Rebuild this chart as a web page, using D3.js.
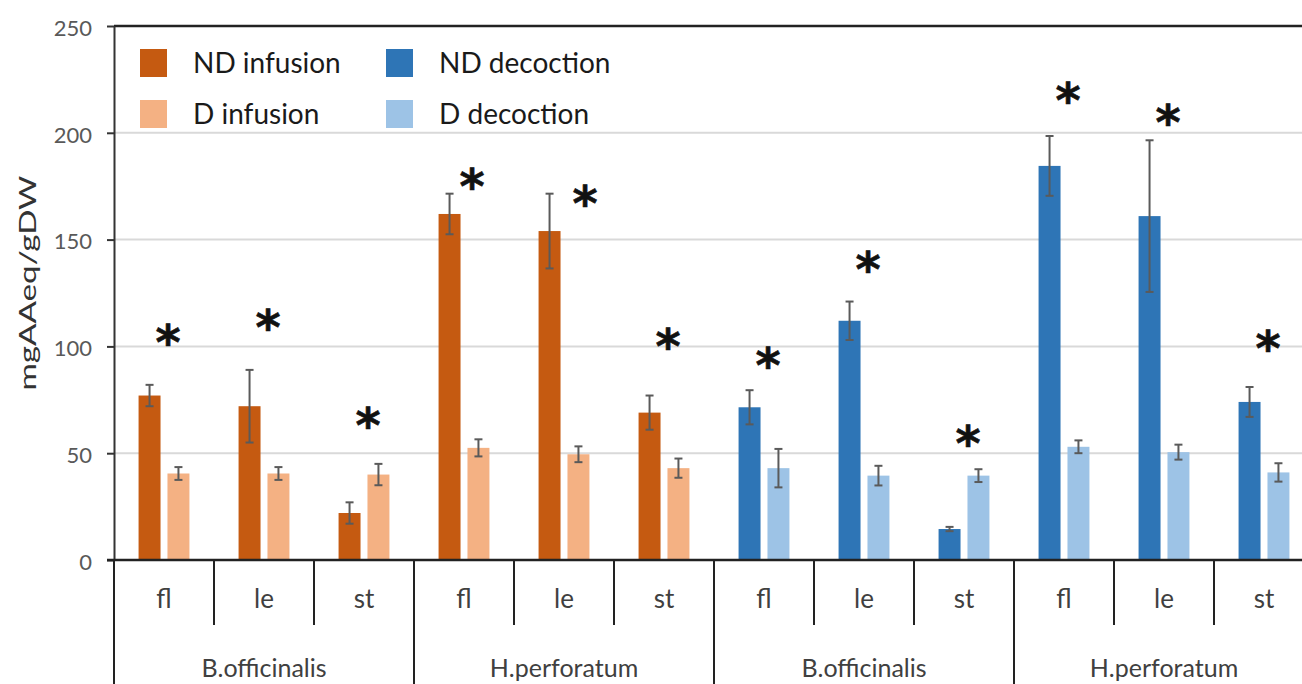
<!DOCTYPE html>
<html lang="en">
<head>
  <meta charset="UTF-8">
  <title>Antioxidant capacity</title>
  <script src="https://d3js.org/d3.v7.min.js"></script>
  <style>
    body { margin: 0; background: #fff; }
    svg { display: block; font-family: Lato, "Open Sans", sans-serif; }
  </style>
</head>
<body>
<svg id="chart" width="1302" height="684"></svg>
<script>
// data
const plants = ["B.officinalis", "H.perforatum", "B.officinalis", "H.perforatum"];
const parts = ["fl", "le", "st"];
const ndInfusion    = [77, 72, 22, 162, 154, 69];
const ndInfusionErr = [5, 17, 5, 9.5, 17.5, 8];
const dInfusion     = [40.5, 40.5, 40, 52.5, 49.5, 43];
const dInfusionErr  = [3, 3, 5, 4, 3.7, 4.5];
const ndDecoction    = [71.5, 112, 14.5, 184.5, 161, 74];
const ndDecoctionErr = [8, 9, 1, 14, 35.5, 7];
const dDecoction     = [43, 39.5, 39.5, 53, 50.5, 41];
const dDecoctionErr  = [9, 4.6, 3, 3, 3.5, 4.3];
// height (mgAAeq/gDW) where each significance asterisk sits
const asterisks = [106, 113, 67, 179, 171, 104, 95, 140, 58.5, 219, 209, 103];
const yTicks = [0, 50, 100, 150, 200, 250];
const legendItems = ["ND infusion", "D infusion", "ND decoction", "D decoction"];

const colors = {
  "ND infusion": "#c55a11", "D infusion": "#f4b183",
  "ND decoction": "#2e75b6", "D decoction": "#9dc3e6"
};

// one row per category (plant x part), infusion first then decoction
const rows = d3.range(12).map(i => {
  const dec = i >= 6, k = i % 6;
  return {
    i,
    method: dec ? "decoction" : "infusion",
    part: parts[i % 3],
    nd: dec ? ndDecoction[k] : ndInfusion[k],
    ndErr: dec ? ndDecoctionErr[k] : ndInfusionErr[k],
    d: dec ? dDecoction[k] : dInfusion[k],
    dErr: dec ? dDecoctionErr[k] : dInfusionErr[k]
  };
});

const svg = d3.select("#chart");
const margin = { top: 26, left: 114, bottom: 560, right: 1314 };

const y = d3.scaleLinear().domain([0, 250]).range([margin.bottom, margin.top]);
const x = d3.scaleBand().domain(d3.range(12)).range([margin.left, margin.right]);
const inner = d3.scaleBand().domain(["ND", "D"]).range([0, x.bandwidth()])
  .paddingInner(0.24).paddingOuter(0.85);

// gridlines
svg.append("g").selectAll("line")
  .data(yTicks.filter(t => t > 0 && t < 250))
  .join("line")
  .attr("x1", margin.left).attr("x2", margin.right)
  .attr("y1", d => y(d)).attr("y2", d => y(d))
  .attr("stroke", "#d9d9d9").attr("stroke-width", 2);

// top border at 250
svg.append("line")
  .attr("x1", margin.left).attr("x2", margin.right)
  .attr("y1", y(250)).attr("y2", y(250))
  .attr("stroke", "#222").attr("stroke-width", 2.5);

// y axis
const yAxis = svg.append("g")
  .attr("transform", `translate(${margin.left},0)`)
  .call(d3.axisLeft(y).tickValues(yTicks).tickSize(7).tickSizeOuter(0).tickPadding(15));
yAxis.select(".domain").attr("stroke", "#333").attr("stroke-width", 2);
yAxis.selectAll(".tick line").attr("stroke", "#333").attr("stroke-width", 2);
yAxis.selectAll(".tick text")
  .attr("fill", "#595959")
  .attr("font-size", 22)
  .attr("font-family", "Lato, sans-serif")
  .attr("dy", "0.42em");

svg.append("text")
  .attr("transform", `translate(36,283) rotate(-90)`)
  .attr("text-anchor", "middle")
  .attr("font-size", 23)
  .attr("fill", "#333")
  .attr("textLength", 215)
  .attr("lengthAdjust", "spacingAndGlyphs")
  .text("mgAAeq/gDW");

// bars
const bars = svg.append("g");
rows.forEach(r => {
  const g = bars.append("g").attr("transform", `translate(${x(r.i)},0)`);
  [["ND", r.nd, r.ndErr], ["D", r.d, r.dErr]].forEach(([s, v, e]) => {
    g.append("rect")
      .attr("x", inner(s))
      .attr("y", y(v))
      .attr("width", inner.bandwidth())
      .attr("height", y(0) - y(v))
      .attr("fill", colors[`${s} ${r.method}`]);
    const cx = inner(s) + inner.bandwidth() / 2;
    const eb = g.append("g").attr("stroke", "#5a5a5a").attr("stroke-width", 2);
    eb.append("line").attr("x1", cx).attr("x2", cx).attr("y1", y(v + e)).attr("y2", y(v - e));
    eb.append("line").attr("x1", cx - 4).attr("x2", cx + 4).attr("y1", y(v + e)).attr("y2", y(v + e));
    eb.append("line").attr("x1", cx - 4).attr("x2", cx + 4).attr("y1", y(v - e)).attr("y2", y(v - e));
  });
});

// asterisks
const astNudge = { 4: 17, 3: 4 };
svg.append("g").selectAll("text")
  .data(asterisks)
  .join("text")
  .attr("x", (d, i) => x(i) + x.bandwidth() / 2 + 4 + (astNudge[i] || 0))
  .attr("y", d => y(d) + 25)
  .attr("text-anchor", "middle")
  .attr("font-family", "DejaVu Sans, sans-serif")
  .attr("font-weight", "bold")
  .attr("font-size", 48)
  .attr("stroke", "#111")
  .attr("stroke-width", 0.6)
  .attr("fill", "#111")
  .text("*");

// x axis: baseline + part labels
const xAxis = svg.append("g")
  .attr("transform", `translate(0,${margin.bottom})`)
  .call(d3.axisBottom(x).tickSize(0).tickSizeOuter(0).tickPadding(30).tickFormat(i => parts[i % 3]));
xAxis.select(".domain").attr("stroke", "#222").attr("stroke-width", 2.5)
  .attr("d", `M${margin.left - 7},0H${margin.right}`);
xAxis.selectAll(".tick text")
  .attr("fill", "#404040")
  .attr("font-size", 26)
  .attr("font-family", "Lato, sans-serif");

// separators between categories
svg.append("g").selectAll("line")
  .data(d3.range(13))
  .join("line")
  .attr("x1", i => margin.left + i * x.step())
  .attr("x2", i => margin.left + i * x.step())
  .attr("y1", margin.bottom)
  .attr("y2", i => i % 3 === 0 ? 684 : 625)
  .attr("stroke", "#222").attr("stroke-width", 2);

// plant labels
svg.append("g").selectAll("text")
  .data(plants)
  .join("text")
  .attr("x", (d, k) => x(k * 3) + x.step() * 1.5)
  .attr("y", 677)
  .attr("text-anchor", "middle")
  .attr("fill", "#404040")
  .attr("font-size", 25)
  .text(d => d);

// legend
const legend = svg.append("g");
legendItems.forEach((name, k) => {
  const col = Math.floor(k / 2), row = k % 2;
  const lx = 140 + col * 246, ly = 49 + row * 51;
  legend.append("rect")
    .attr("x", lx).attr("y", ly).attr("width", 27).attr("height", 28)
    .attr("fill", colors[name]);
  legend.append("text")
    .attr("x", lx + 53).attr("y", ly + 24)
    .attr("font-size", 28)
    .attr("fill", "#1a1a1a")
    .text(name);
});
</script>
</body>
</html>
